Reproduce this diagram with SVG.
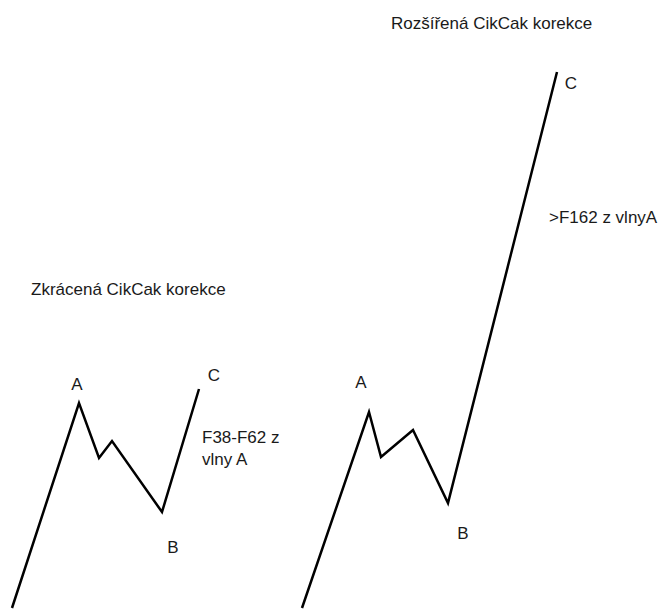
<svg xmlns="http://www.w3.org/2000/svg" width="661" height="609" viewBox="0 0 661 609">
<style>
.t{font-family:"Liberation Sans",Arial,sans-serif;font-size:17px;fill:#1a1a1a}
.w{fill:none;stroke:#000;stroke-width:2.5;stroke-linejoin:miter;stroke-linecap:butt}
</style>
<rect width="661" height="609" fill="#fff"/>
<g id="connectors">
<polyline class="w" points="12,608 79,403 99,458 112,441 162,512 199,389"/>
<polyline class="w" points="302,608 369,412 381,457 413,430 448,503 557,72"/>
</g>
<g id="left-title"><text class="t" x="31" y="295">Zkrácená CikCak korekce</text></g>
<g id="left-A"><text class="t" x="77" y="390" text-anchor="middle">A</text></g>
<g id="left-B"><text class="t" x="173" y="553" text-anchor="middle">B</text></g>
<g id="left-C"><text class="t" x="214" y="381" text-anchor="middle">C</text></g>
<g id="left-note"><text class="t" x="202" y="443">F38-F62 z</text><text class="t" x="202" y="465">vlny A</text></g>
<g id="right-title"><text class="t" x="391" y="29">Rozšířená CikCak korekce</text></g>
<g id="right-A"><text class="t" x="361" y="388" text-anchor="middle">A</text></g>
<g id="right-B"><text class="t" x="463" y="539" text-anchor="middle">B</text></g>
<g id="right-C"><text class="t" x="571" y="89" text-anchor="middle">C</text></g>
<g id="right-note"><text class="t" x="549" y="223">&gt;F162 z vlnyA</text></g>
</svg>
